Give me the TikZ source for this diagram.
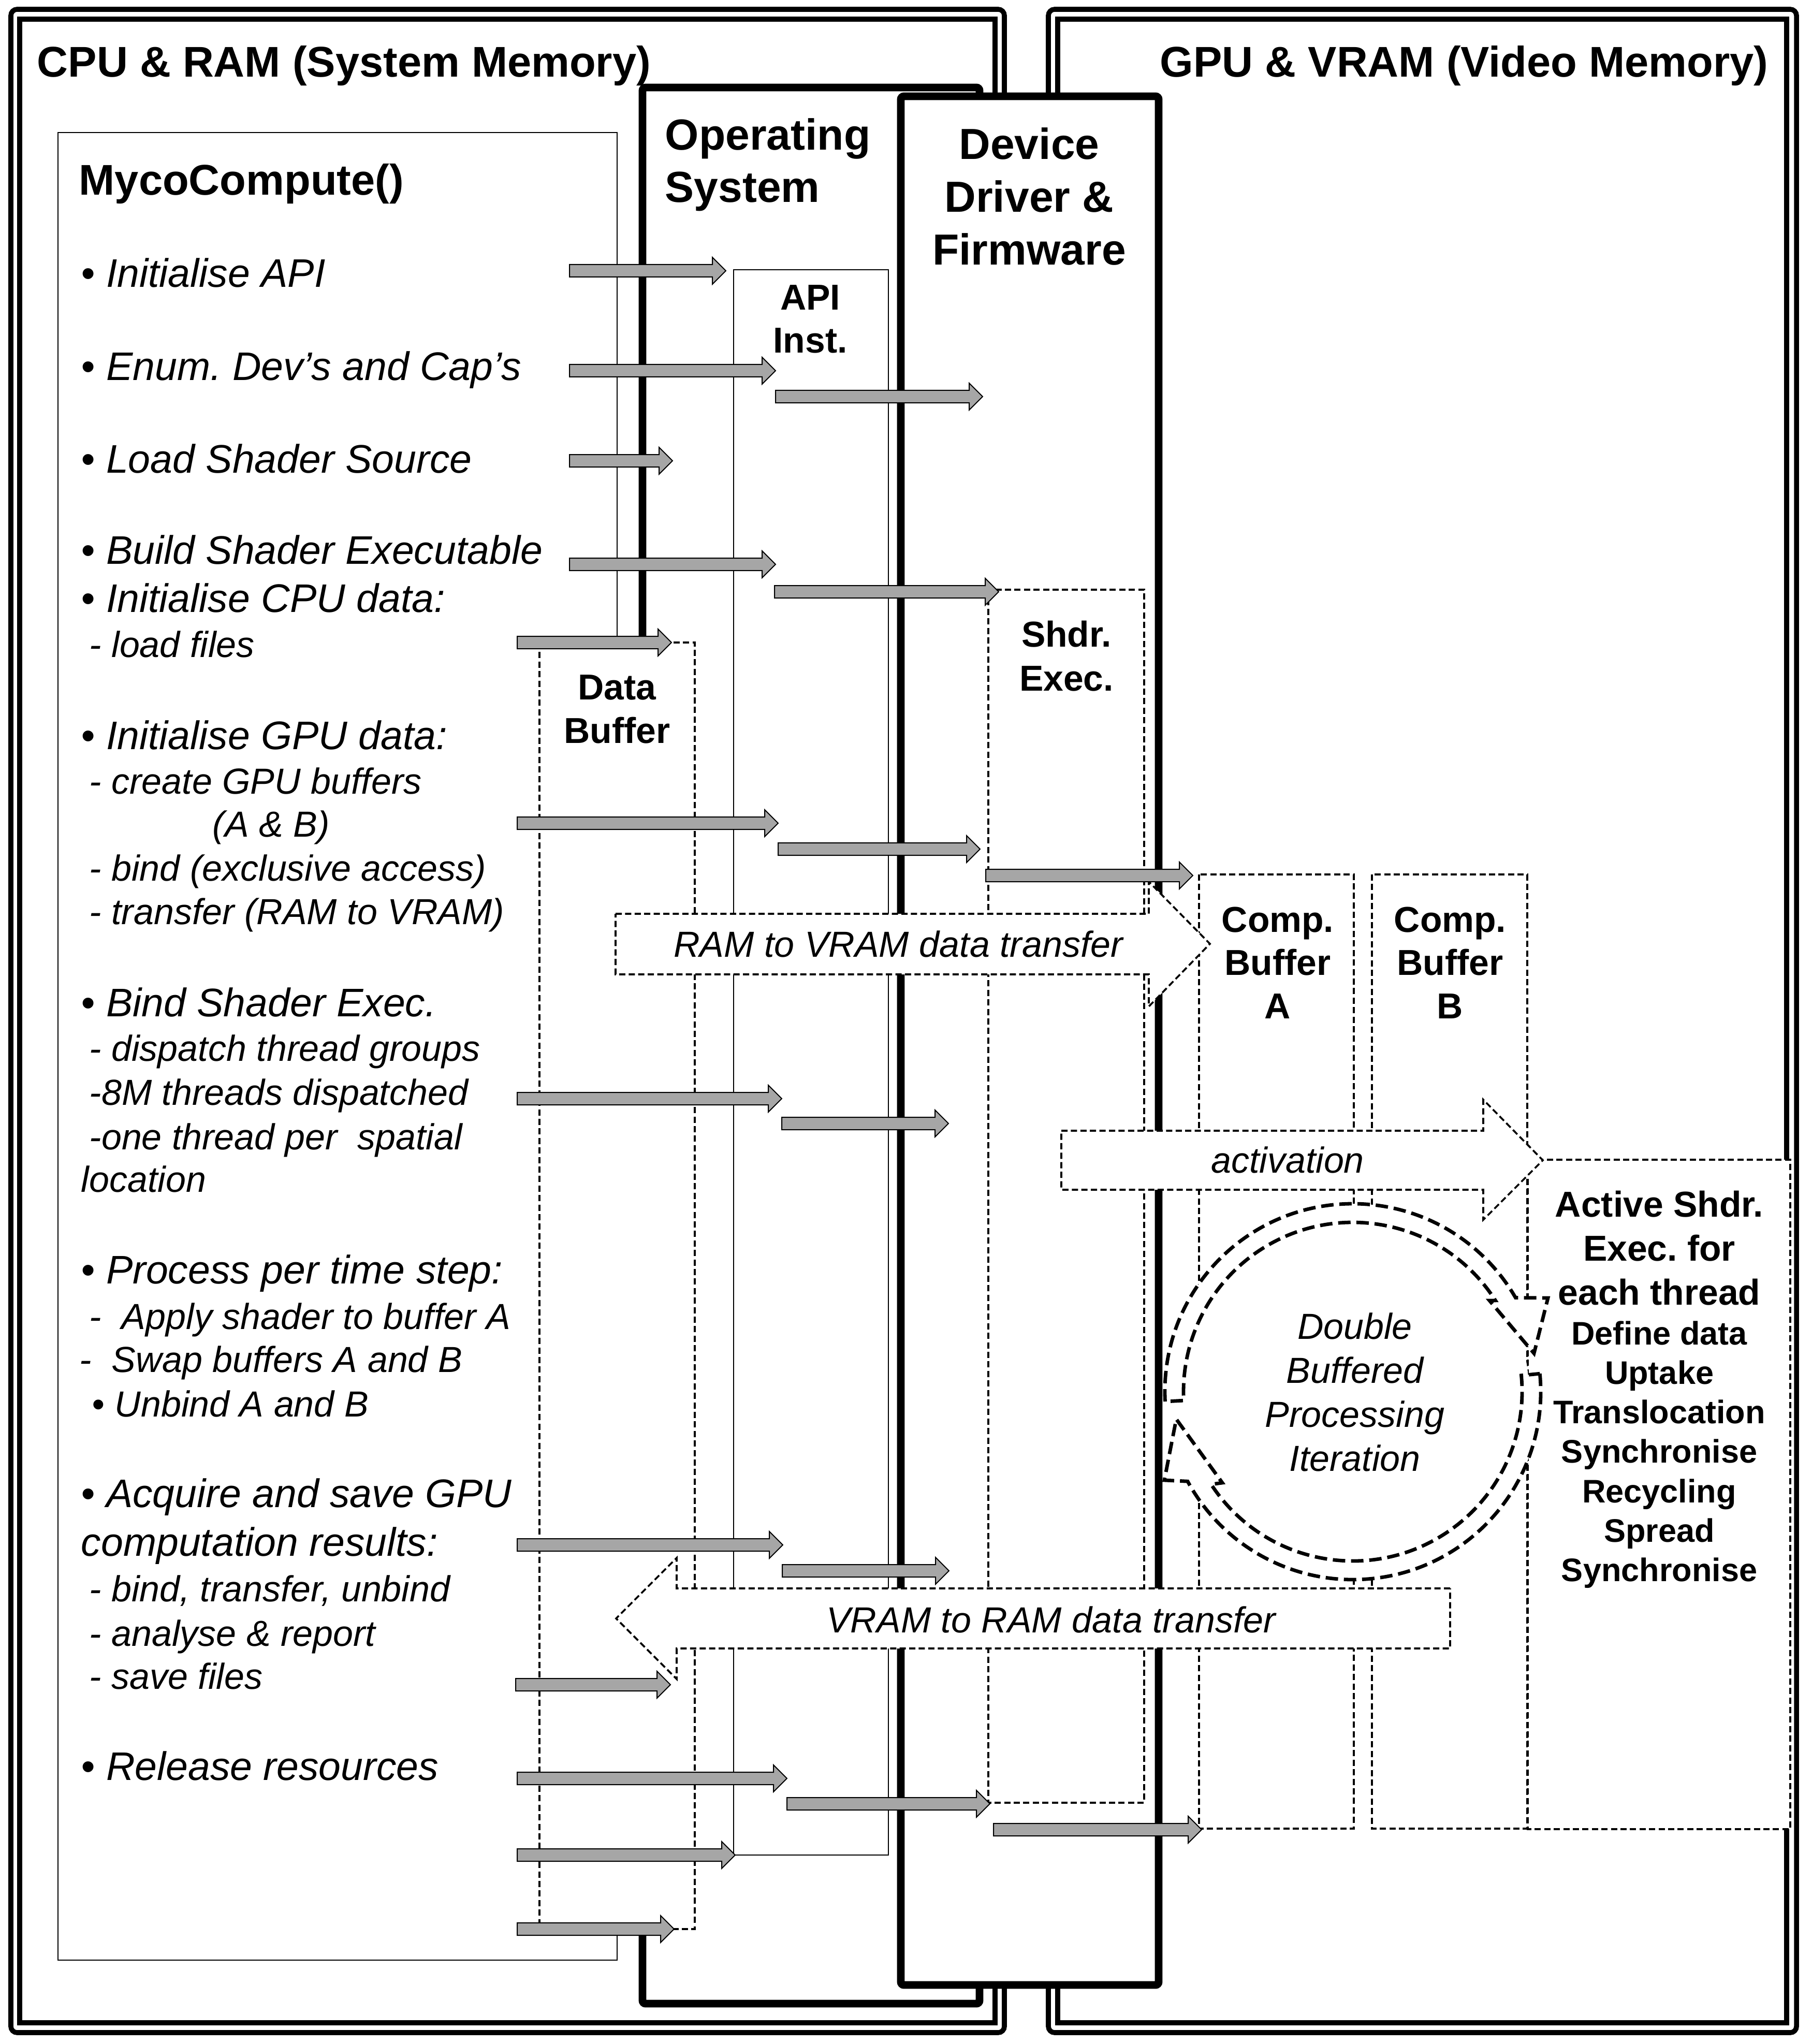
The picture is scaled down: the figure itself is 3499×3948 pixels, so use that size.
\documentclass[tikz,border=0pt]{standalone}
\usepackage{fontspec}
\setmainfont{Liberation Sans}
\usetikzlibrary{calc}
\frenchspacing

\tikzset{
  sysframe/.style={line width=2.4pt},
  layerbox/.style={line width=3.7pt, fill=white, rounded corners=1.5pt},
  thinbox/.style={line width=0.5pt},
  dashbox/.style={line width=0.9pt, dash pattern=on 3pt off 1.6pt, fill=white},
  garrow/.style={draw=black, line width=0.5pt, fill=gray!70},
  ringarrow/.style={line width=1.7pt, dash pattern=on 6pt off 2.8pt, fill=white},
  ttl/.style={font=\fontsize{20.75}{24}\selectfont\bfseries, inner sep=0pt},
  hdr/.style={font=\fontsize{21}{25}\selectfont\bfseries, inner sep=0pt, anchor=base},
  lbl/.style={font=\fontsize{17.4}{21}\selectfont\bfseries, inner sep=0pt, anchor=base},
  lblsm/.style={font=\fontsize{15.75}{19}\selectfont\bfseries, inner sep=0pt, anchor=base},
  itm/.style={font=\fontsize{19.25}{23}\selectfont\itshape, inner sep=0pt, anchor=base west},
  subitm/.style={font=\fontsize{17.5}{21}\selectfont\itshape, inner sep=0pt, anchor=base west},
  note/.style={font=\fontsize{17.5}{21}\selectfont\itshape, inner sep=0pt, anchor=base},
}

% gray block arrow: start x, tip x, height
\newcommand\garrowat[3]{%
  \draw[garrow] (#1,#3-12) -- (#2-26,#3-12) -- (#2-26,#3-26) -- (#2,#3)
    -- (#2-26,#3+26) -- (#2-26,#3+12) -- (#1,#3+12) -- cycle;}

\begin{document}
\begin{tikzpicture}[x=0.25pt, y=-0.25pt]
  \useasboundingbox (0,0) rectangle (3499,3948);
  % system memory and video memory frames
  \draw[sysframe, rounded corners=3pt] (21,18) rectangle (1940,3926);
  \draw[sysframe] (38,37) rectangle (1922,3907);
  \draw[sysframe, rounded corners=3pt] (2025,18) rectangle (3470,3926);
  \draw[sysframe] (2043,37) rectangle (3451,3907);
  \node[ttl, anchor=base west] (cputitle) at (71,149) {CPU \& RAM (System Memory)};
  \node[ttl, anchor=base east] (gputitle) at (3416,149) {GPU \& VRAM (Video Memory)};

  % program, operating system, driver
  \draw[thinbox] (112,256) rectangle (1192,3786);
  \draw[layerbox] (1241,169) rectangle (1892,3870);
  \draw[thinbox] (1417,521) rectangle (1716,3583);
  \draw[layerbox] (1740,186) rectangle (2238,3834);

  % buffers and executables
  \draw[dashbox] (1042,1241) rectangle (1342,3726);
  \draw[dashbox] (1909,1139) rectangle (2210,3482);
  \draw[dashbox] (2316,1689) rectangle (2615,3532);
  \draw[dashbox] (2650,1689) rectangle (2950,3532);
  \draw[dashbox] (2951,2240) rectangle (3458,3533);

  % transfer arrows
  \draw[dashbox] (1189,1765) -- (2219,1765) -- (2219,1703) -- (2337,1823)
    -- (2219,1944) -- (2219,1882) -- (1189,1882) -- cycle;
  \draw[dashbox] (2050,2184) -- (2865,2184) -- (2865,2124) -- (2980,2241)
    -- (2865,2356) -- (2865,2298) -- (2050,2298) -- cycle;
  \draw[dashbox] (2801,3068) -- (1307,3068) -- (1307,3009) -- (1190,3126)
    -- (1307,3243) -- (1307,3184) -- (2801,3184) -- cycle;

  % processing loop
  \coordinate (rc) at (2613,2688);
  \fill[white] (rc) circle[radius=340];
  \draw[ringarrow] ($(rc)+(-183:363)$) arc[start angle=-183, end angle=-30, radius=363]
    -- (2990,2507) -- (2963,2614) -- (2877,2512)
    -- ($(rc)+(-32.6:327)$) arc[start angle=-32.6, end angle=-183, radius=327] -- cycle;
  \draw[ringarrow] ($(rc)+(-5.5:363)$) arc[start angle=-5.5, end angle=151.5, radius=363]
    -- (2249,2859) -- (2272,2741) -- (2361,2864)
    -- ($(rc)+(146.8:327)$) arc[start angle=146.8, end angle=-5.5, radius=327] -- cycle;

  % calls
  \foreach \xa/\xb/\yy in {1100/1402/523, 1100/1498/716, 1498/1898/766,
      1100/1299/890, 1100/1498/1090, 1496/1929/1143, 999/1297/1241,
      999/1503/1590, 1503/1893/1640, 1904/2304/1691, 999/1510/2122,
      1510/1832/2170, 999/1512/2984, 1511/1833/3034, 996/1295/3254,
      999/1520/3435, 1520/1912/3484, 1919/2321/3534, 999/1420/3583,
      999/1302/3726}
    {\garrowat{\xa}{\xb}{\yy}}

  % program steps
  \node[ttl, anchor=base west] (myco) at (152,377) {MycoCompute()};
  \node[itm] (s1) at (156,555) {• Initialise API};
  \node[itm] (s2) at (156,734) {• Enum. Dev’s and Cap’s};
  \node[itm] (s3) at (156,913) {• Load Shader Source};
  \node[itm] (s4) at (156,1089) {• Build Shader Executable};
  \node[itm] (s5) at (156,1182) {• Initialise CPU data:};
  \node[subitm] (s5a) at (172,1269) {- load files};
  \node[itm] (s6) at (156,1447) {• Initialise GPU data:};
  \node[subitm] (s6a) at (172,1533) {- create GPU buffers};
  \node[subitm] (s6b) at (410,1616) {(A \& B)};
  \node[subitm] (s6c) at (172,1701) {- bind (exclusive access)};
  \node[subitm] (s6d) at (172,1785) {- transfer (RAM to VRAM)};
  \node[itm] (s7) at (156,1963) {• Bind Shader Exec.};
  \node[subitm] (s7a) at (172,2049) {- dispatch thread groups};
  \node[subitm] (s7b) at (172,2134) {-8M threads dispatched};
  \node[subitm] (s7c) at (172,2220) {-one thread per\ \ spatial};
  \node[subitm] (s7d) at (156,2302) {location};
  \node[itm] (s8) at (156,2479) {• Process per time step:};
  \node[subitm] (s8a) at (172,2567) {-\ \ Apply shader to buffer A};
  \node[subitm] (s8b) at (153,2650) {-\ \ Swap buffers A and B};
  \node[subitm] (s8c) at (177,2736) {• Unbind A and B};
  \node[itm] (s9) at (156,2911) {• Acquire and save GPU};
  \node[itm] (s9x) at (156,3005) {computation results:};
  \node[subitm] (s9a) at (172,3093) {- bind, transfer, unbind};
  \node[subitm] (s9b) at (172,3179) {- analyse \& report};
  \node[subitm] (s9c) at (172,3262) {- save files};
  \node[itm] (s10) at (156,3438) {• Release resources};

  % layer and buffer labels
  \node[hdr, anchor=base west] (os1) at (1284,290) {Operating};
  \node[hdr, anchor=base west] (os2) at (1284,391) {System};
  \foreach \t [count=\i from 0] in {Device,Driver \&,Firmware}
    \node[hdr] (dd\i) at (1988,308+102*\i) {\t};
  \foreach \t [count=\i from 0] in {API,Inst.}
    \node[lbl] (api\i) at (1565,599+83*\i) {\t};
  \foreach \t [count=\i from 0] in {Data,Buffer}
    \node[lbl] (db\i) at (1192,1351+84*\i) {\t};
  \foreach \t [count=\i from 0] in {Shdr.,Exec.}
    \node[lbl] (se\i) at (2060,1249+85*\i) {\t};
  \foreach \t [count=\i from 0] in {Comp.,Buffer,A}
    \node[lbl] (ca\i) at (2468,1800+83.5*\i) {\t};
  \foreach \t [count=\i from 0] in {Comp.,Buffer,B}
    \node[lbl] (cb\i) at (2801,1800+83.5*\i) {\t};
  \foreach \t [count=\i from 0] in {Active Shdr.,Exec. for,each thread}
    \node[lbl] (as\i) at (3205,2350+85*\i) {\t};
  \foreach \t [count=\i from 0] in {Define data,Uptake,Translocation,Synchronise,Recycling,Spread,Synchronise}
    \node[lblsm] (st\i) at (3205,2597+76.3*\i) {\t};
  \foreach \t [count=\i from 0] in {Double,Buffered,Processing,Iteration}
    \node[note] (loop\i) at (2617,2586+85*\i) {\t};
  \node[note] (r2v) at (1735,1848) {RAM to VRAM data transfer};
  \node[note] (act) at (2487,2265) {activation};
  \node[note] (v2r) at (2030,3153) {VRAM to RAM data transfer};
\end{tikzpicture}
\end{document}
